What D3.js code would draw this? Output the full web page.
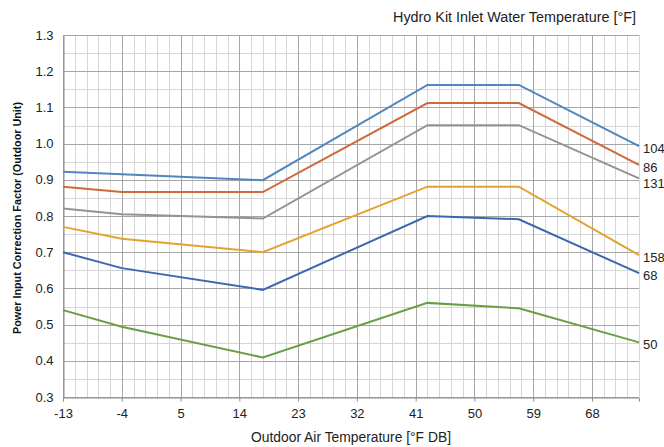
<!DOCTYPE html>
<html>
<head>
<meta charset="utf-8">
<script src="https://cdn.jsdelivr.net/npm/d3@7"></script>
<style>
  body { margin: 0; background: #fff; }
  svg { font-family: "Liberation Sans", Arial, sans-serif; }
</style>
</head>
<body>
<div class="container"></div>
<script>
// chart size and plot margins
const width = 664;
const height = 447;
const margin = { top: 35, right: 25, bottom: 50, left: 63 };

// outdoor air temperatures (°F DB) where the curves bend
const outdoorTemps = [-13, -4, 17.6, 42.8, 56.8, 75.2];

// water inlet temperatures (line labels) and their factors
const waterTemps = ["104", "86", "131", "158", "68", "50"];
const factor104 = [0.922, 0.915, 0.899, 1.162, 1.162, 0.993];
const factor86  = [0.881, 0.866, 0.866, 1.112, 1.112, 0.941];
const factor131 = [0.821, 0.805, 0.793, 1.051, 1.051, 0.904];
const factor158 = [0.770, 0.737, 0.700, 0.881, 0.881, 0.692];
const factor68  = [0.700, 0.656, 0.596, 0.800, 0.791, 0.642];
const factor50  = [0.540, 0.494, 0.409, 0.560, 0.545, 0.451];
const lineColors = ["#4f86bf", "#d0693a", "#939393", "#e3a22f", "#3d66b0", "#6a9e44"];

// tick labels
const xTicks = [-13, -4, 5, 14, 23, 32, 41, 50, 59, 68];
const yTicks = [0.3, 0.4, 0.5, 0.6, 0.7, 0.8, 0.9, 1.0, 1.1, 1.2, 1.3];

const allSeries = [factor104, factor86, factor131, factor158, factor68, factor50];

const svg = d3.select(".container")
  .append("svg")
  .attr("width", width)
  .attr("height", height);

const xScale = d3.scaleLinear()
  .domain([-13, 75.2])
  .range([margin.left, width - margin.right]);

const yScale = d3.scaleLinear()
  .domain([0.3, 1.3])
  .range([height - margin.bottom, margin.top]);

// minor grid: every 1.8 °F and every 0.05
const xMinor = d3.range(0, 50).map(i => -13 + i * 1.8);
const yMinor = d3.range(0, 21).map(i => 0.3 + i * 0.05);

const grid = svg.append("g");

grid.selectAll(".vminor")
  .data(xMinor)
  .join("line")
  .attr("x1", d => Math.round(xScale(d)) + 0.5)
  .attr("x2", d => Math.round(xScale(d)) + 0.5)
  .attr("y1", yScale(1.3))
  .attr("y2", yScale(0.3))
  .attr("stroke", "#d6d6d6")
  .attr("stroke-width", 1);

grid.selectAll(".hminor")
  .data(yMinor)
  .join("line")
  .attr("x1", xScale(-13))
  .attr("x2", xScale(75.2))
  .attr("y1", d => Math.round(yScale(d)) + 0.5)
  .attr("y2", d => Math.round(yScale(d)) + 0.5)
  .attr("stroke", "#d6d6d6")
  .attr("stroke-width", 1);

// major grid lines
grid.selectAll(".vmajor")
  .data(xTicks)
  .join("line")
  .attr("x1", d => Math.round(xScale(d)) + 0.5)
  .attr("x2", d => Math.round(xScale(d)) + 0.5)
  .attr("y1", yScale(1.3))
  .attr("y2", yScale(0.3))
  .attr("stroke", "#a6a6a6")
  .attr("stroke-width", 1);

grid.selectAll(".hmajor")
  .data(yTicks)
  .join("line")
  .attr("x1", xScale(-13))
  .attr("x2", xScale(75.2))
  .attr("y1", d => Math.round(yScale(d)) + 0.5)
  .attr("y2", d => Math.round(yScale(d)) + 0.5)
  .attr("stroke", "#a6a6a6")
  .attr("stroke-width", 1);

// x axis with short ticks below the plot
function xAxis(g) {
  g.call(d3.axisBottom(xScale)
      .tickValues(xTicks)
      .tickSize(4)
      .tickPadding(7)
      .tickFormat(d => d))
    .attr("font-size", "13px")
    .attr("font-family", "Liberation Sans, Arial, sans-serif");
  g.select(".domain").attr("stroke", "#8c8c8c");
  g.selectAll(".tick line").attr("stroke", "#8c8c8c");
  g.selectAll(".tick text").attr("fill", "#222");
}

function yAxis(g) {
  g.call(d3.axisLeft(yScale)
      .tickValues(yTicks)
      .tickSize(0)
      .tickPadding(10)
      .tickFormat(d3.format(".1f")))
    .attr("font-size", "13px")
    .attr("font-family", "Liberation Sans, Arial, sans-serif");
  g.select(".domain").attr("stroke", "#8c8c8c");
  g.selectAll(".tick text").attr("fill", "#222");
}

svg.append("g")
  .attr("transform", `translate(0, ${Math.round(yScale(0.3)) + 0.5})`)
  .call(xAxis);

svg.append("g")
  .attr("transform", `translate(${Math.round(xScale(-13)) + 0.5}, 0)`)
  .call(yAxis);

// the curves
const line = d3.line()
  .x((d, i) => xScale(outdoorTemps[i]))
  .y(d => yScale(d));

svg.append("g")
  .selectAll("path")
  .data(allSeries)
  .join("path")
  .attr("d", d => line(d))
  .attr("fill", "none")
  .attr("stroke", (d, i) => lineColors[i])
  .attr("stroke-width", 2);

// label positions: start at the line end, push down when too close
let labelY = allSeries.map((d, i) => ({ i: i, y: yScale(d[d.length - 1]) + 2 }));
labelY.sort((a, b) => a.y - b.y);
for (let k = 1; k < labelY.length; k++) {
  if (labelY[k].y - labelY[k - 1].y < 16) labelY[k].y = labelY[k - 1].y + 16;
}
const labelPos = [];
labelY.forEach(l => labelPos[l.i] = l.y);

// water temperature labels at the right end of each curve
svg.append("g")
  .selectAll("text")
  .data(allSeries)
  .join("text")
  .attr("x", xScale(75.2) + 4)
  .attr("y", (d, i) => labelPos[i])
  .attr("dy", "0.35em")
  .attr("font-size", "13px")
  .attr("fill", "#222")
  .text((d, i) => waterTemps[i]);

// titles
svg.append("text")
  .attr("x", 636)
  .attr("y", 22)
  .attr("text-anchor", "end")
  .attr("font-size", "14px")
  .attr("fill", "#222")
  .attr("textLength", 243)
  .attr("lengthAdjust", "spacingAndGlyphs")
  .text("Hydro Kit Inlet Water Temperature [°F]");

svg.append("text")
  .attr("x", (xScale(-13) + xScale(75.2)) / 2)
  .attr("y", 442)
  .attr("text-anchor", "middle")
  .attr("font-size", "14px")
  .attr("fill", "#222")
  .attr("textLength", 200)
  .attr("lengthAdjust", "spacingAndGlyphs")
  .text("Outdoor Air Temperature [°F DB]");

svg.append("text")
  .attr("transform", `translate(21, 218) rotate(-90)`)
  .attr("text-anchor", "middle")
  .attr("font-size", "11px")
  .attr("font-weight", "bold")
  .attr("fill", "#111")
  .attr("textLength", 232)
  .attr("lengthAdjust", "spacingAndGlyphs")
  .text("Power Input Correction Factor (Outdoor Unit)");
</script>
</body>
</html>
